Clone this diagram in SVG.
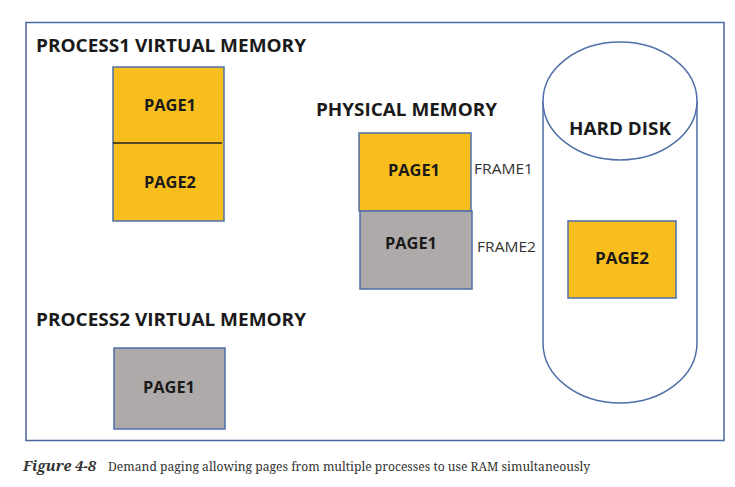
<svg xmlns="http://www.w3.org/2000/svg" width="735" height="487" viewBox="0 0 735 487">
<style>
.t{font-family:"Open Sans","Liberation Sans",sans-serif;font-weight:bold;fill:#1a1a1a}
.h{font-size:17px}
.p{font-size:15.5px;text-anchor:middle}
.f{font-family:"Open Sans","Liberation Sans",sans-serif;font-size:14px;fill:#333}
.y{fill:#F8BE1D;stroke:#4E6FA8;stroke-width:1.5}
.g{fill:#AEAAAA;stroke:#4E6FA8;stroke-width:1.5}
.c{font-family:"Noto Serif","DejaVu Serif","Liberation Serif",serif;font-size:12.5px;fill:#333}
</style>
<rect width="735" height="487" fill="#fff"/>
<rect x="26" y="22.5" width="698" height="418" fill="none" stroke="#4A67A0" stroke-width="1.5"/>
<g id="process1">
<text class="t h" x="36" y="52" textLength="270" lengthAdjust="spacingAndGlyphs">PROCESS1 VIRTUAL MEMORY</text>
<rect class="y" x="113" y="67" width="111" height="154"/>
<line x1="113" y1="143" x2="222" y2="143" stroke="#222" stroke-width="1.3"/>
<text class="t p" x="170" y="111" textLength="52" lengthAdjust="spacingAndGlyphs">PAGE1</text>
<text class="t p" x="170" y="188" textLength="52" lengthAdjust="spacingAndGlyphs">PAGE2</text>
</g>
<g id="physical">
<text class="t h" x="316" y="116" textLength="181" lengthAdjust="spacingAndGlyphs">PHYSICAL MEMORY</text>
<rect class="y" x="359" y="133" width="112" height="78"/>
<rect class="g" x="360" y="211" width="112" height="78"/>
<text class="t p" x="414" y="176" textLength="52" lengthAdjust="spacingAndGlyphs">PAGE1</text>
<text class="t p" x="411" y="249" textLength="52" lengthAdjust="spacingAndGlyphs">PAGE1</text>
<text class="f" x="474" y="174" textLength="59" lengthAdjust="spacingAndGlyphs">FRAME1</text>
<text class="f" x="477" y="252" textLength="59" lengthAdjust="spacingAndGlyphs">FRAME2</text>
</g>
<g id="harddisk">
<path d="M543,101 L543,343 A77,60 0 0 0 697,343 L697,101" fill="#fff" stroke="#4E6FA8" stroke-width="1.5"/>
<ellipse cx="620" cy="101" rx="77" ry="59" fill="#fff" stroke="#4E6FA8" stroke-width="1.5"/>
<text class="t h" x="620" y="135" text-anchor="middle" textLength="102" lengthAdjust="spacingAndGlyphs">HARD DISK</text>
<rect class="y" x="568" y="221" width="108" height="77"/>
<text class="t p" x="622" y="264" textLength="54" lengthAdjust="spacingAndGlyphs">PAGE2</text>
</g>
<g id="process2">
<text class="t h" x="36" y="326" textLength="270" lengthAdjust="spacingAndGlyphs">PROCESS2 VIRTUAL MEMORY</text>
<rect class="g" x="114" y="348" width="111" height="81"/>
<text class="t p" x="169" y="393" textLength="52" lengthAdjust="spacingAndGlyphs">PAGE1</text>
</g>
<g id="connectors"></g>
<text class="c" x="23" y="471"><tspan font-weight="bold" font-style="italic" font-size="14px" textLength="73" lengthAdjust="spacingAndGlyphs">Figure 4-8</tspan><tspan x="108" textLength="482" lengthAdjust="spacingAndGlyphs">Demand paging allowing pages from multiple processes to use RAM simultaneously</tspan></text>
</svg>
